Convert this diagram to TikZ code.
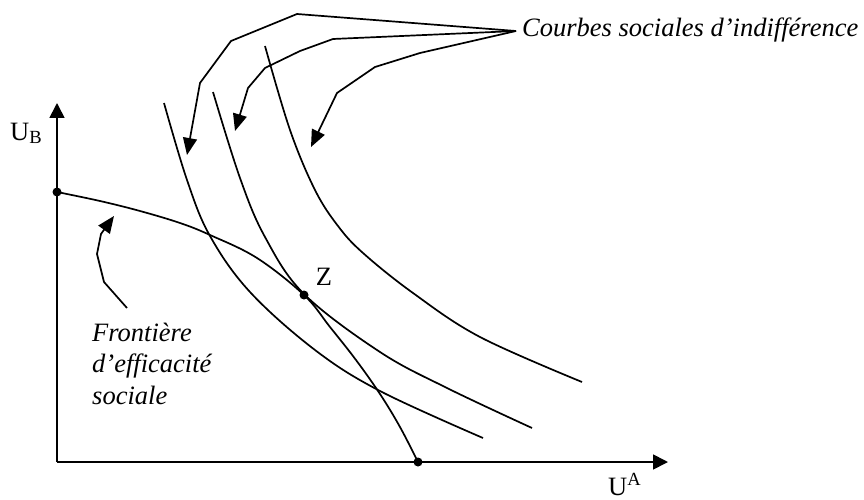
\documentclass[tikz,border=0pt]{standalone}
\usepackage{fontspec}
\setmainfont{Liberation Serif}
\usetikzlibrary{arrows.meta}
\begin{document}
\begin{tikzpicture}[x=1pt,y=-1pt,
  curve/.style={line width=1.7pt},
  leader/.style={line width=1.7pt, line join=miter, -{Triangle[length=17pt,width=14pt]}},
  axis/.style={line width=1.7pt, -{Triangle[length=15pt,width=15pt]}},
  lbl/.style={font=\fontsize{26.5}{31.5}\selectfont, inner sep=0pt},
  itlbl/.style={font=\fontsize{26.5}{31.5}\selectfont\itshape, inner sep=0pt},
  dot/.style={circle, fill, inner sep=0pt, minimum size=9pt}]
\useasboundingbox (0,0) rectangle (864,500);
% axes
\coordinate (O) at (57,462);
\coordinate (ytip) at (57,103);
\coordinate (xtip) at (668,462);
\draw[axis] (O) -- (ytip);
\draw[axis] (O) -- (xtip);
% axis labels
\node[lbl, anchor=base west] (UB) at (10,140) {U\textsubscript{B}};
\node[lbl, anchor=base west] (UA) at (608,495) {U\textsuperscript{A}};
% frontier
\node[dot] (F0) at (57,192) {};
\node[dot] (F1) at (418,462) {};
\node[dot] (Z) at (304,295) {};
\draw[curve] plot[smooth, tension=0.6] coordinates {(57,192) (100,201) (140,211) (180,223) (210,235) (257,258) (304,295) (330,327) (356,360) (380,394) (400,427) (418,462)};
\node[lbl, anchor=center] (Zl) at (324,277) {Z};
% indifference curves
\draw[curve] plot[smooth, tension=0.6] coordinates {(164,103) (187,180) (210,236) (250,292) (315,350) (380,391) (483,438)};
\draw[curve] plot[smooth, tension=0.6] coordinates {(213,92) (240,178) (265,237) (304,294) (380,352) (447,388) (532,428)};
\draw[curve] plot[smooth, tension=0.6] coordinates {(265,46) (290,130) (315,190) (338,226) (363,253) (413,293) (480,337) (582,382)};
% label of indifference curves with leaders
\coordinate (hub) at (516,31);
\node[itlbl, anchor=base west] (CSI) at (522,37) {Courbes sociales d’indifférence};
\coordinate (a1) at (187,155);
\coordinate (a2) at (235,131);
\coordinate (a3) at (311,147);
\draw[leader] (hub) -- (297,14) -- (231,41) -- (200,83) -- (a1);
\draw[leader] (hub) -- (333,39) -- (300,51) -- (265,68) -- (248,88) -- (a2);
\draw[leader] (hub) -- (420,53) -- (375,67) -- (337,93) -- (a3);
% frontier label
\node[itlbl, anchor=base west, align=left] (FL) at (92,404) {Frontière\\d’efficacité\\sociale};
\coordinate (fl0) at (127,308);
\coordinate (fl1) at (114,216);
\draw[leader] (fl0) -- (104,282) -- (97,254) -- (101,234) -- (fl1);
\end{tikzpicture}
\end{document}
